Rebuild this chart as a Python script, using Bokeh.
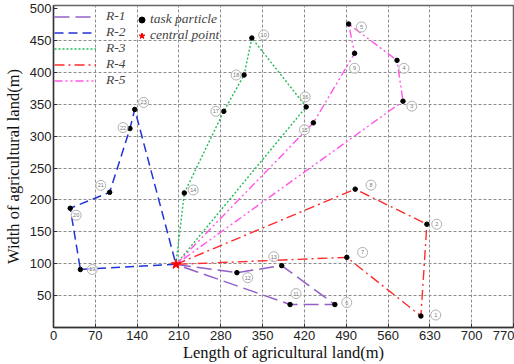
from bokeh.plotting import figure
from bokeh.models import FixedTicker, Legend, LegendItem, Range1d
from bokeh.embed import file_html
from bokeh.resources import INLINE

# ---------------- data ----------------
center_x = [205]
center_y = [99]

r1_ids = [12, 13, 6, 11]
r1_x = [307, 382, 471, 396]
r1_y = [86, 97, 36, 36]

r2_ids = [19, 20, 21, 22, 23]
r2_x = [45, 28, 94, 128, 136]
r2_y = [91, 187, 212, 312, 342]

r3_ids = [14, 17, 18, 10, 16]
r3_x = [219, 285, 319, 332, 423]
r3_y = [211, 339, 396, 454, 346]

r4_ids = [8, 2, 1, 7]
r4_x = [505, 625, 615, 491]
r4_y = [217, 162, 18, 110]

r5_ids = [15, 9, 5, 4, 3]
r5_x = [435, 504, 494, 575, 585]
r5_y = [321, 430, 476, 419, 355]

route_names = ["R-1", "R-2", "R-3", "R-4", "R-5"]
x_ticks = list(range(0, 771, 70))
y_ticks = list(range(50, 501, 50))

# ---------------- styles ----------------
route_styles = [
    dict(color="#9460c8", line_dash="15 6", line_width=1.5),
    dict(color="#2233d8", line_dash="9 5", line_width=1.5),
    dict(color="#22bb55", line_dash="2 2", line_width=1.4),
    dict(color="#ff2b2b", line_dash="10 4 2 4", line_width=1.4),
    dict(color="#ff55e8", line_dash="8 3 2 3 2 3", line_width=1.4),
]
# screen-pixel offsets of the circled number labels (dx right, dy down)
label_offsets = {1: (15, -1), 2: (10, 0), 3: (9, 5), 4: (7, 8), 5: (13, 3),
                 6: (12, -2), 7: (16, -5), 8: (16, -4), 9: (0, 15), 10: (12, -3),
                 11: (6, -11), 12: (11, 5), 13: (-8, -9), 14: (9, -3), 15: (-9, 7),
                 16: (-1, -10), 17: (-8, 0), 18: (-8, 0), 19: (12, 0), 20: (6, 7),
                 21: (-9, -7), 22: (-7, -1), 23: (9, -7)}

W, H = 514, 364
BL, BR, BT, BB = 47, 1, 5, 36
FW, FH = W - BL - BR, H - BT - BB
X0, X1 = 0, 770
Y0, Y1 = 0, 505

p = figure(width=W, height=H, output_backend="svg", toolbar_location=None,
           x_range=Range1d(X0, X1), y_range=Range1d(Y0, Y1),
           min_border_left=BL, min_border_right=BR, min_border_top=BT,
           min_border_bottom=BB)
p.background_fill_color = "white"
p.border_fill_color = "white"
p.outline_line_color = "#666666"
p.outline_line_width = 1.5

# grid
for g in (p.xgrid, p.ygrid):
    g.grid_line_color = "#8c8c8c"
    g.grid_line_dash = "3 2"
    g.grid_line_width = 1
p.xgrid.ticker = FixedTicker(ticks=x_ticks)
p.ygrid.ticker = FixedTicker(ticks=y_ticks[:-1])

# axes
tick_font = "Liberation Sans Narrow, Liberation Sans"
for ax in (p.xaxis, p.yaxis):
    ax.axis_line_color = "#333333"
    ax.axis_line_width = 1.3
    ax.major_tick_in = 4
    ax.major_tick_out = 0
    ax.minor_tick_line_color = None
    ax.major_tick_line_color = "#333333"
    ax.major_label_text_font = tick_font
    ax.major_label_text_font_size = "13px"
    ax.major_label_text_color = "#222222"
    ax.axis_label_text_font = "Liberation Serif"
    ax.axis_label_text_font_style = "normal"
    ax.axis_label_text_font_size = "16.5px"
    ax.axis_label_text_color = "#111111"
p.xaxis.ticker = FixedTicker(ticks=x_ticks)
p.yaxis.ticker = FixedTicker(ticks=y_ticks)
p.xaxis.axis_label = "Length of agricultural land(m)"
p.yaxis.axis_label = "Width of agricultural land(m)"
p.xaxis.major_label_standoff = 3
p.yaxis.major_label_standoff = 2
p.xaxis.axis_label_standoff = 0
p.yaxis.axis_label_standoff = 4

# routes
routes = [(r1_ids, r1_x, r1_y), (r2_ids, r2_x, r2_y), (r3_ids, r3_x, r3_y),
          (r4_ids, r4_x, r4_y), (r5_ids, r5_x, r5_y)]
route_renderers = []
for (ids, xs, ys), st in zip(routes, route_styles):
    lx = center_x + xs + center_x
    ly = center_y + ys + center_y
    r = p.line(lx, ly, **st)
    route_renderers.append(r)

# task points
all_ids, all_x, all_y = [], [], []
for ids, xs, ys in routes:
    all_ids += ids
    all_x += xs
    all_y += ys
p.scatter(all_x, all_y, size=4.5, color="black")

# circled number labels
ux = (X1 - X0) / FW
uy = (Y1 - Y0) / FH
lab_x = [x + label_offsets[i][0] * ux for i, x in zip(all_ids, all_x)]
lab_y = [y - label_offsets[i][1] * uy for i, y in zip(all_ids, all_y)]
p.scatter(lab_x, lab_y, size=10, marker="circle", fill_color="white",
          fill_alpha=0.6, line_color="#b0b0b0", line_width=1)
p.text(lab_x, lab_y, text=[str(i) for i in all_ids], text_align="center",
       text_baseline="middle", text_font_size="5.5px", text_color="#777777")

# central point
p.scatter(center_x, center_y, marker="star", size=10, color="red")

# legend-only renderers (no visible data, only the legend swatch)
nan = float("nan")
leg_dot = p.scatter(x=[nan], y=[nan], size=9, color="black")
leg_star = p.scatter(x=[nan], y=[nan], marker="star", size=13, color="red")

leg1 = Legend(items=[LegendItem(label=n, renderers=[r]) for n, r in zip(route_names, route_renderers)],
              location=(0, FH - 8 - 77), padding=1, margin=0, spacing=0,
              glyph_width=42, glyph_height=15, label_height=15, label_standoff=10,
              label_text_font="Liberation Serif", label_text_font_style="italic",
              label_text_font_size="13.5px", border_line_alpha=0,
              background_fill_alpha=0)
leg2 = Legend(items=[LegendItem(label="task particle", renderers=[leg_dot]),
                     LegendItem(label="central point", renderers=[leg_star])],
              location=(80, FH - 8 - 32), padding=1, margin=0, spacing=0,
              glyph_width=15, glyph_height=15, label_height=15, label_standoff=1,
              label_text_font="Liberation Serif", label_text_font_style="italic",
              label_text_font_size="13.5px", border_line_alpha=0,
              background_fill_alpha=0)
p.add_layout(leg1, "center")
p.add_layout(leg2, "center")

open("out.html", "w").write(file_html(p, INLINE))
